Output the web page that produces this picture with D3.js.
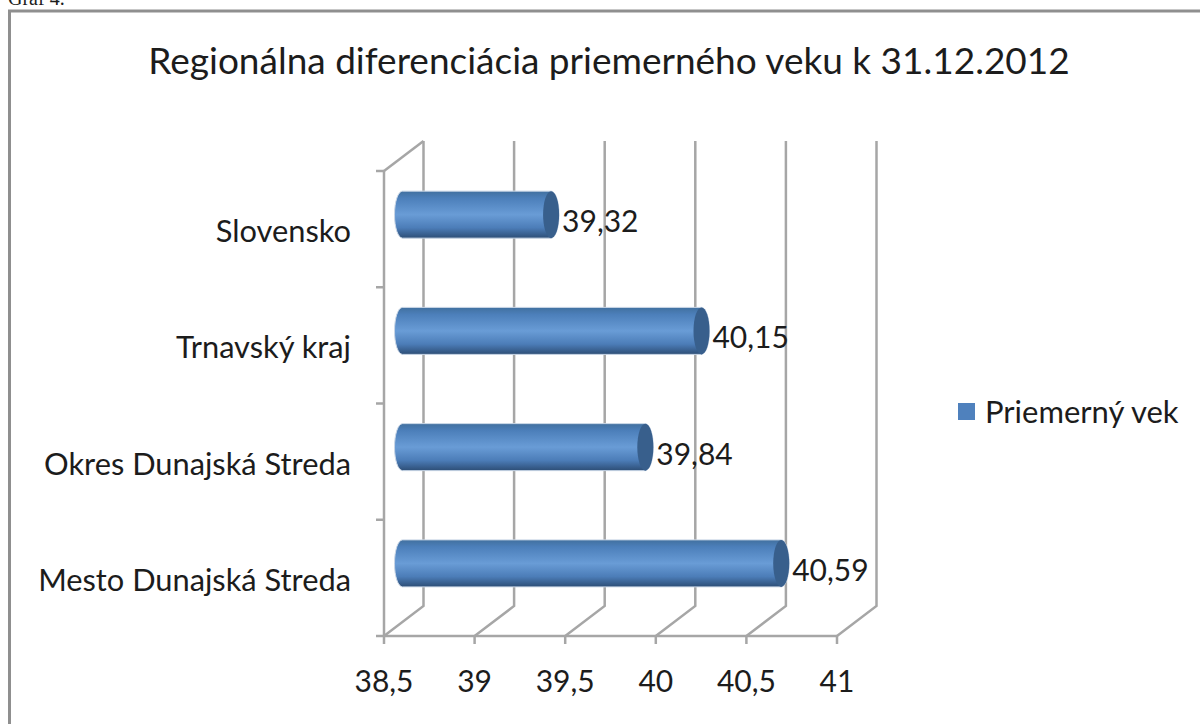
<!DOCTYPE html>
<html>
<head>
<meta charset="utf-8">
<script src="https://cdnjs.cloudflare.com/ajax/libs/d3/7.8.5/d3.min.js"></script>
<style>
html, body { margin: 0; padding: 0; background: #fff; overflow: hidden; }
text { font-family: Lato, "Open Sans", sans-serif; fill: #1c1c1c; }
</style>
</head>
<body>
<div id="chart"></div>
<script>
var categories = ["Slovensko", "Trnavský kraj", "Okres Dunajská Streda", "Mesto Dunajská Streda"];
var values = [39.32, 40.15, 39.84, 40.59];
var xTicks = [38.5, 39, 39.5, 40, 40.5, 41];
var titleText = "Regionálna diferenciácia priemerného veku k 31.12.2012";
var legendText = "Priemerný vek";

var width = 1200;
var height = 724;
var depthX = 39.5;
var depthY = 30;
var barOffX = 18.5;
var barOffY = 14.5;
var barThick = 47;
var capRx = 8;
var gridColor = "#a6a6a6";

var comma = d => String(d).replace(".", ",");

var svg = d3.select("#chart").append("svg")
    .attr("width", width)
    .attr("height", height);

var defs = svg.append("defs");
var grad = defs.append("linearGradient")
    .attr("id", "barGrad")
    .attr("x1", 0).attr("y1", 0).attr("x2", 0).attr("y2", 1);
grad.append("stop").attr("offset", "0%").attr("stop-color", "#41709f");
grad.append("stop").attr("offset", "15%").attr("stop-color", "#4c7fba");
grad.append("stop").attr("offset", "50%").attr("stop-color", "#699cd6");
grad.append("stop").attr("offset", "78%").attr("stop-color", "#4c7db8");
grad.append("stop").attr("offset", "100%").attr("stop-color", "#2d4e76");

/* outer frame of the pasted picture, open on the right and bottom */
svg.append("text")
    .attr("x", 8).attr("y", 5)
    .style("font-family", "'Liberation Serif', serif")
    .style("font-size", "20px")
    .text("Graf 4.");
svg.append("rect")
    .attr("x", 9.5).attr("y", 11)
    .attr("width", 1230).attr("height", 760)
    .attr("fill", "#fff")
    .attr("stroke", "#8f8f8f")
    .attr("stroke-width", 3);

/* Scale */
var xScale = d3.scaleLinear().domain([38.5, 41]).range([384, 837]);
var yScale = d3.scaleBand().domain(categories).range([171, 636]);

var grid = svg.append("g")
    .attr("fill", "none")
    .attr("stroke", gridColor)
    .attr("stroke-width", 2.5);

/* back wall lines and floor diagonals */
xTicks.forEach(function(t) {
    var x = xScale(t);
    var y0 = yScale.range()[0];
    var y1 = yScale.range()[1];
    grid.append("path")
        .attr("d", d3.line()([[x, y1], [x + depthX, y1 - depthY], [x + depthX, y0 - depthY]]));
});
/* left wall, floor edge */
grid.append("path")
    .attr("d", d3.line()([[xScale(38.5), yScale.range()[0]], [xScale(38.5), yScale.range()[1]]]));
grid.append("path")
    .attr("d", d3.line()([[xScale(38.5), yScale.range()[0]], [xScale(38.5) + depthX, yScale.range()[0] - depthY]]));
grid.append("path")
    .attr("d", d3.line()([[xScale(38.5) - 8, yScale.range()[1]], [xScale(41), yScale.range()[1]]]));

/* tick marks */
xTicks.forEach(function(t) {
    grid.append("path")
        .attr("d", d3.line()([[xScale(t), yScale.range()[1]], [xScale(t), yScale.range()[1] + 8]]));
});
categories.forEach(function(c) {
    var y = yScale(c);
    grid.append("path")
        .attr("d", d3.line()([[xScale(38.5) - 8, y], [xScale(38.5), y]]));
});

/* bars as cylinders */
var bars = svg.selectAll(".bar")
    .data(categories)
    .enter().append("g")
    .attr("class", "bar");

function barPath(c, i) {
    var x0 = xScale(38.5) + barOffX;
    var x1 = xScale(values[i]) + barOffX;
    var cy = yScale(c) + yScale.bandwidth() / 2 - barOffY;
    var r = barThick / 2;
    return "M" + x0 + "," + (cy - r)
        + "L" + x1 + "," + (cy - r)
        + "A" + capRx + "," + r + " 0 0 1 " + x1 + "," + (cy + r)
        + "L" + x0 + "," + (cy + r)
        + "A" + capRx + "," + r + " 0 0 1 " + x0 + "," + (cy - r) + "Z";
}

bars.append("path")
    .attr("d", barPath)
    .attr("fill", "url(#barGrad)")
    .attr("stroke", "#c9d6e6")
    .attr("stroke-width", 1);

bars.append("ellipse")
    .attr("cx", (c, i) => xScale(values[i]) + barOffX)
    .attr("cy", c => yScale(c) + yScale.bandwidth() / 2 - barOffY)
    .attr("rx", capRx)
    .attr("ry", barThick / 2)
    .attr("fill", "#385f8c");

/* value labels */
svg.selectAll(".value")
    .data(categories)
    .enter().append("text")
    .attr("class", "value")
    .attr("x", (c, i) => xScale(values[i]) + barOffX + 11)
    .attr("y", c => yScale(c) + yScale.bandwidth() / 2 + 3)
    .style("font-size", "30px")
    .text((c, i) => comma(values[i]));

/* category labels */
svg.selectAll(".cat")
    .data(categories)
    .enter().append("text")
    .attr("class", "cat")
    .attr("x", 351)
    .attr("y", c => yScale(c) + yScale.bandwidth() / 2 + 13)
    .attr("text-anchor", "end")
    .style("font-size", "30.8px")
    .text(c => c);

/* x labels */
svg.selectAll(".tick-label")
    .data(xTicks)
    .enter().append("text")
    .attr("class", "tick-label")
    .attr("x", d => xScale(d))
    .attr("y", 692)
    .attr("text-anchor", "middle")
    .style("font-size", "30px")
    .text(comma);

/* title */
svg.append("text")
    .attr("x", 609)
    .attr("y", 74)
    .attr("text-anchor", "middle")
    .style("font-size", "37px")
    .text(titleText);

/* legend */
svg.append("rect")
    .attr("x", 958).attr("y", 403)
    .attr("width", 17).attr("height", 17)
    .attr("fill", "#4f81bd");
svg.append("text")
    .attr("x", 985).attr("y", 423)
    .style("font-size", "31px")
    .text(legendText);
</script>
</body>
</html>
